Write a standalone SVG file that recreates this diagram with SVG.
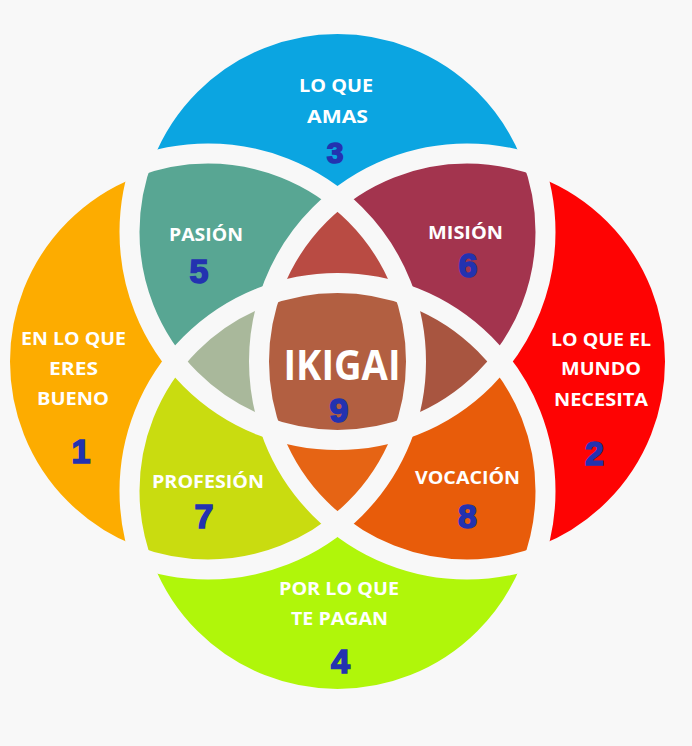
<svg xmlns="http://www.w3.org/2000/svg" width="692" height="746" viewBox="0 0 692 746">
<style>
.lbl{font-family:"Open Sans","Liberation Sans",sans-serif;font-weight:700;font-size:18px;fill:#ffffff;text-anchor:middle}
.big{font-size:42px}
.num{font-family:"Liberation Sans",Arial,sans-serif;font-weight:700;font-size:34px;fill:#2332b0;stroke:#2332b0;stroke-width:1.6;text-anchor:middle}
.sep{fill:none;stroke:#f8f8f8;stroke-width:20}
</style>
<defs>
<clipPath id="kT"><circle cx="337.5" cy="232" r="208"/></clipPath>
<clipPath id="kB"><circle cx="337.5" cy="491" r="208"/></clipPath>
<clipPath id="kL"><circle cx="208" cy="361.5" r="208"/></clipPath>
<clipPath id="kR"><circle cx="467" cy="361.5" r="208"/></clipPath>
</defs>
<rect width="692" height="746" fill="#f8f8f8"/>

<g id="lo-que-amas">
<circle cx="337.5" cy="232" r="208" fill="#0ba5e1"/>
<text class="lbl" x="336" y="92" textLength="74" lengthAdjust="spacingAndGlyphs">LO QUE</text>
<text class="lbl" x="337.5" y="123" textLength="61" lengthAdjust="spacingAndGlyphs">AMAS</text>
<text class="num" x="335" y="163" style="font-size:30px">3</text>
</g>
<g id="en-lo-que-eres-bueno">
<circle cx="208" cy="361.5" r="208" fill="#fdac00"/>
<text class="lbl" x="73.5" y="345" textLength="105" lengthAdjust="spacingAndGlyphs">EN LO QUE</text>
<text class="lbl" x="73.5" y="375" textLength="49" lengthAdjust="spacingAndGlyphs">ERES</text>
<text class="lbl" x="73" y="405" textLength="72" lengthAdjust="spacingAndGlyphs">BUENO</text>
<text class="num" x="81" y="463">1</text>
</g>
<g id="lo-que-el-mundo-necesita">
<circle cx="467" cy="361.5" r="208" fill="#fe0303"/>
<text class="lbl" x="601" y="346" textLength="100" lengthAdjust="spacingAndGlyphs">LO QUE EL</text>
<text class="lbl" x="601" y="375" textLength="80" lengthAdjust="spacingAndGlyphs">MUNDO</text>
<text class="lbl" x="601" y="406" textLength="94" lengthAdjust="spacingAndGlyphs">NECESITA</text>
<text class="num" x="594.5" y="465">2</text>
</g>
<g id="por-lo-que-te-pagan">
<circle cx="337.5" cy="491" r="208" fill="#b0f60a"/>
<text class="lbl" x="339" y="595" textLength="120" lengthAdjust="spacingAndGlyphs">POR LO QUE</text>
<text class="lbl" x="339.5" y="625" textLength="97" lengthAdjust="spacingAndGlyphs">TE PAGAN</text>
<text class="num" x="340.5" y="673">4</text>
</g>

<g id="pasion" clip-path="url(#kT)">
<circle cx="208" cy="361.5" r="208" fill="#58a693"/>
<text class="lbl" x="206" y="241" textLength="74" lengthAdjust="spacingAndGlyphs">PASIÓN</text>
<text class="num" x="199" y="283">5</text>
</g>
<g id="mision" clip-path="url(#kT)">
<circle cx="467" cy="361.5" r="208" fill="#a3344e"/>
<text class="lbl" x="465.5" y="239" textLength="75" lengthAdjust="spacingAndGlyphs">MISIÓN</text>
<text class="num" x="468" y="277">6</text>
</g>
<g id="profesion" clip-path="url(#kB)">
<circle cx="208" cy="361.5" r="208" fill="#c9dc10"/>
<text class="lbl" x="208" y="488" textLength="112" lengthAdjust="spacingAndGlyphs">PROFESIÓN</text>
<text class="num" x="204" y="528">7</text>
</g>
<g id="vocacion" clip-path="url(#kB)">
<circle cx="467" cy="361.5" r="208" fill="#e85c0a"/>
<text class="lbl" x="467.5" y="484" textLength="105" lengthAdjust="spacingAndGlyphs">VOCACIÓN</text>
<text class="num" x="467.5" y="528">8</text>
</g>

<g id="top-triple" clip-path="url(#kT)">
<g clip-path="url(#kL)"><circle cx="467" cy="361.5" r="208" fill="#b94b43"/></g>
</g>
<g id="left-triple" clip-path="url(#kT)">
<g clip-path="url(#kL)"><circle cx="337.5" cy="491" r="208" fill="#a9b89b"/></g>
</g>
<g id="right-triple" clip-path="url(#kT)">
<g clip-path="url(#kR)"><circle cx="337.5" cy="491" r="208" fill="#a85540"/></g>
</g>
<g id="bottom-triple" clip-path="url(#kB)">
<g clip-path="url(#kL)"><circle cx="467" cy="361.5" r="208" fill="#e66414"/></g>
</g>

<g id="ikigai">
<g clip-path="url(#kT)"><g clip-path="url(#kB)"><g clip-path="url(#kL)"><circle cx="467" cy="361.5" r="208" fill="#b25f41"/></g></g></g>
<text class="lbl big" x="342" y="380" textLength="117" lengthAdjust="spacingAndGlyphs">IKIGAI</text>
<text class="num" x="339" y="422">9</text>
</g>

<g id="connectors">
<circle class="sep" cx="337.5" cy="232" r="208"/>
<circle class="sep" cx="337.5" cy="491" r="208"/>
<circle class="sep" cx="208" cy="361.5" r="208"/>
<circle class="sep" cx="467" cy="361.5" r="208"/>
</g>
</svg>
